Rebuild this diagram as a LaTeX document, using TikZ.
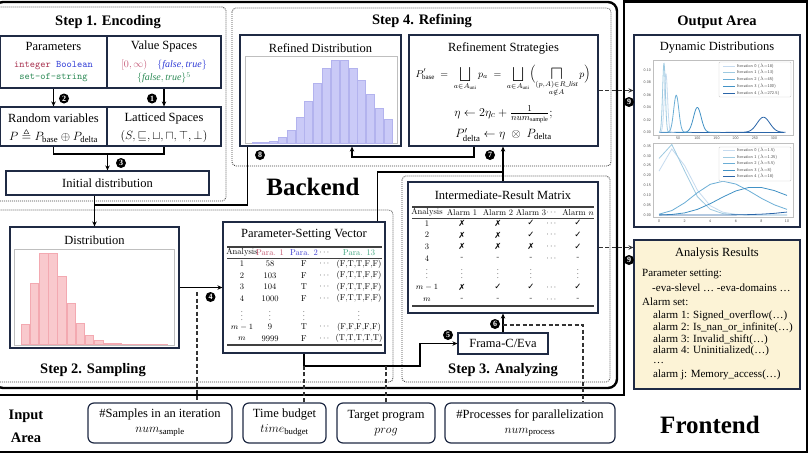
\documentclass[tikz,border=0pt]{standalone}
\usepackage{amsmath}
\usepackage{amssymb}
\usepackage{fontspec}
\usepackage{graphicx}
\usepackage{xcolor}
\usetikzlibrary{arrows.meta}
\setmainfont{Liberation Serif}
\newfontfamily\lmr{lmroman10-regular.otf}
\newfontfamily\djv{DejaVu Sans}

\definecolor{navy}{HTML}{1F2A44}
\definecolor{cream}{HTML}{FCF3D6}
\definecolor{pinkbar}{HTML}{F9C9CD}
\definecolor{pinkedge}{HTML}{F3A9B1}
\definecolor{bluebar}{HTML}{CACAF7}
\definecolor{blueedge}{HTML}{B3B3EE}
\definecolor{tred}{HTML}{A8324F}
\definecolor{tblue}{HTML}{2F3BD6}
\definecolor{tgreen}{HTML}{2E8B57}
\definecolor{vred}{HTML}{C55A78}
\definecolor{pred}{HTML}{C0506A}
\definecolor{pblue}{HTML}{3838D0}
\definecolor{pgreen}{HTML}{3AA37B}
\definecolor{blue0}{HTML}{C6DBEF}
\definecolor{blue1}{HTML}{9ECAE1}
\definecolor{blue2}{HTML}{6BAED6}
\definecolor{blue3}{HTML}{4292C6}
\definecolor{blue4}{HTML}{2A65A8}

\newcommand{\cmark}{{\djv\char"2713}}
\newcommand{\xmark}{{\djv\char"2717}}
\newcommand{\bigmeet}{\mathop{\vcenter{\hbox{\scalebox{1.9}{$\sqcap$}}}}\limits}

\begin{document}
\begin{tikzpicture}[x=1pt, y=-1pt, font=\fontsize{12.5}{14}\selectfont]
	\tikzstyle{block}=[draw=navy, line width=1.2pt, fill=white, inner sep=2pt]
	\tikzstyle{inbox}=[block, rounded corners=6pt, minimum height=40pt, align=center]
	\tikzstyle{txt}=[inner sep=0pt, align=center]
	\tikzstyle{steptitle}=[inner sep=0pt, font=\fontsize{14.5}{16}\selectfont\bfseries]
	\tikzstyle{bigtitle}=[inner sep=0pt, font=\fontsize{25}{28}\selectfont\bfseries]
	\tikzstyle{stepframe}=[draw=black!75, line width=0.9pt, dash pattern=on 0.9pt off 1.1pt, rounded corners=4pt]
	\tikzstyle{frame}=[draw=black, line width=2.4pt]
	\tikzstyle{link}=[draw=black, line width=1.1pt]
	\tikzstyle{arr}=[link, -{Stealth[length=5pt,width=4.5pt]}]
	\tikzstyle{dashlink}=[draw=black!80, line width=1.1pt, dash pattern=on 4pt off 2.5pt]
	\tikzstyle{dasharr}=[dashlink, -{Stealth[length=5pt,width=4.5pt]}]
	\tikzstyle{marker}=[circle, fill=black, text=white, inner sep=0pt, minimum size=10pt, font=\fontsize{8}{8}\selectfont\bfseries]
	\tikzstyle{cell}=[inner sep=0pt, font=\lmr\fontsize{8.5}{9}\selectfont]
	\tikzstyle{vdotcell}=[inner sep=0pt, font=\fontsize{6.5}{7}\selectfont]
	\tikzstyle{ticklab}=[inner sep=0pt, font=\sffamily\fontsize{3.8}{4}\selectfont, text=black!70]
	\tikzstyle{legendtxt}=[inner sep=0pt, anchor=west, font=\sffamily\fontsize{4.2}{5}\selectfont, text=black!70]
	\useasboundingbox (0,0) rectangle (808,455);

	% Draw the outer areas and the dotted step frames
	\draw[frame, rounded corners=9pt] (-6,2) rectangle (617,388);
	\draw[frame] (624,1.5) -- (807,1.5) -- (807,452) -- (-6,452) -- (-6,395) -- (624,395) -- cycle;
	\draw[stepframe] (-4,7) rectangle (226,201);
	\draw[stepframe] (-4,210) rectangle (393,382);
	\draw[stepframe] (402,176) rectangle (610,382);
	\draw[stepframe] (232,8) rectangle (611,166);

	\node[steptitle] (s1) at (108,22) {Step 1. Encoding};
	\node[steptitle] (s2) at (93,370) {Step 2. Sampling};
	\node[steptitle] (s3) at (503,370) {Step 3. Analyzing};
	\node[steptitle] (s4) at (422,21) {Step 4. Refining};
	\node[steptitle] (oa) at (717,22) {Output Area};
	\node[steptitle] (ia1) at (26,416) {Input};
	\node[steptitle] (ia2) at (26,438) {Area};
	\node[bigtitle] (be) at (313,187) {Backend};
	\node[bigtitle] (fe) at (710,425) {Frontend};

	% Draw the encoding step
	\node[block, minimum width=107pt, minimum height=52pt] (param) at (53.5,62) {};
	\node[block, minimum width=114pt, minimum height=52pt] (vspace) at (164,62) {};
	\node[block, minimum width=107pt, minimum height=39pt] (randvar) at (53.5,126.5) {};
	\node[block, minimum width=114pt, minimum height=39pt] (lattice) at (164,126.5) {};
	\node[block, minimum width=203pt, minimum height=24pt] (init) at (107.5,183) {Initial distribution};
	\node[txt] (paramT) at (53.5,46) {Parameters};
	\node[txt, font=\ttfamily\fontsize{10}{12}\selectfont] (paramL) at (53.5,72) {\textcolor{tred}{integer} \textcolor{tblue}{Boolean}\\\textcolor{tgreen}{set-of-string}};
	\node[txt] (vspaceT) at (164,46) {Value Spaces};
	\node[txt, font=\fontsize{10}{12}\selectfont] (vspaceL) at (164,65) {$\color{vred}[0,\infty)$\quad$\color{tblue}\{\mathit{false}, \mathit{true}\}$};
	\node[txt, font=\fontsize{10}{12}\selectfont] (vspaceL2) at (164,78) {$\color{tgreen}\{\mathit{false}, \mathit{true}\}^5$};
	\node[txt] (randvarT) at (53.5,118) {Random variables};
	\node[txt] (randvarL) at (53.5,136) {$P \triangleq P_{\mathrm{base}} \oplus P_{\mathrm{delta}}$};
	\node[txt] (latticeT) at (164,118) {Latticed Spaces};
	\node[txt] (latticeL) at (164,136) {$(S, \sqsubseteq, \sqcup, \sqcap, \top, \bot)$};

	% Draw the sampling step
	\node[block, minimum width=169pt, minimum height=121pt] (dist) at (94.5,287.5) {};
	\node[txt] (distT) at (94.5,240) {Distribution};
	\draw[black!25, line width=0.6pt] (14,249) rectangle (174,345);
	\foreach \h [count=\i] in {20.7,61,91.3,91.3,68.7,41.7,21.3,9.7,4,1.7,1,0.7,0.3,0.2,0.1,0.1}
		\filldraw[fill=pinkbar, draw=pinkedge, line width=0.4pt] ({21+(\i-1)*9.17},344.5) rectangle ++(8.4,-\h);

	\node[block, minimum width=162pt, minimum height=131pt] (psv) at (304,287.5) {};
	\node[txt] (psvT) at (304,235) {Parameter-Setting Vector};
	\draw[black!75, line width=1.2pt] (227,247) -- (382,247);
	\draw[black!75, line width=0.5pt] (227,258) -- (382,258);
	\draw[black!75, line width=1.2pt] (227,345) -- (382,345);
	\foreach \x/\t [count=\c] in {242/Analysis, 270/\textcolor{pred}{Para. 1}, 304/\textcolor{pblue}{Para. 2}, 325/$\cdots$, 359/\textcolor{pgreen}{Para. 13}}
		\node[cell] (V-0-\c) at (\x,252.5) {\t};
	\foreach \ypos/\va/\vb/\vc/\vd [count=\row] in {264/1/58/F/{(F,T,T,F,F)}, 275.5/2/103/F/{(F,T,T,F,F)}, 287/3/104/T/{(F,T,T,F,F)}, 298.5/4/1000/F/{(F,T,T,F,F)}, 327/{$m-1$}/9/T/{(F,F,F,F,F)}, 338.5/{$m$}/9999/F/{(T,T,T,T,T)}}
	{
		\node[cell] (V-\row-1) at (242,\ypos) {\va};
		\node[cell] (V-\row-2) at (270,\ypos) {\vb};
		\node[cell] (V-\row-3) at (304,\ypos) {\vc};
		\node[cell] (V-\row-4) at (325,\ypos) {$\cdots$};
		\node[cell] (V-\row-5) at (359,\ypos) {\vd};
	}
	\foreach \x [count=\c] in {242,270,304,359}
		\node[vdotcell] (V-dots-\c) at (\x,313) {$\vdots$};

	% Draw the analyzing step
	\node[block, minimum width=190pt, minimum height=131pt] (irm) at (503,247.5) {};
	\node[txt] (irmT) at (503,195) {Intermediate-Result Matrix};
	\draw[black!75, line width=1.2pt] (412,207) -- (594,207);
	\draw[black!75, line width=0.5pt] (412,218.5) -- (594,218.5);
	\draw[black!75, line width=1.2pt] (412,306) -- (594,306);
	\foreach \x/\t [count=\c] in {427/Analysis, 462/Alarm 1, 498/Alarm 2, 531/Alarm 3, 552/$\cdots$, 578/Alarm $n$}
		\node[cell] (M-0-\c) at (\x,212.7) {\t};
	\foreach \ypos/\va/\vb/\vc/\vd/\ve [count=\row] in {223.3/1/\xmark/\xmark/\cmark/\cmark, 235/2/\xmark/\xmark/\cmark/\cmark, 246.7/3/\xmark/\xmark/\xmark/\cmark, 258.3/4/-/-/-/-, 287.3/{$m-1$}/\xmark/\cmark/\cmark/\cmark, 299.3/{$m$}/-/-/-/-}
	{
		\node[cell] (M-\row-1) at (427,\ypos) {\va};
		\node[cell] (M-\row-2) at (462,\ypos) {\vb};
		\node[cell] (M-\row-3) at (498,\ypos) {\vc};
		\node[cell] (M-\row-4) at (531,\ypos) {\vd};
		\node[cell] (M-\row-5) at (552,\ypos) {$\cdots$};
		\node[cell] (M-\row-6) at (578,\ypos) {\ve};
	}
	\foreach \x [count=\c] in {427,462,498,531,578}
		\node[vdotcell] (M-dots-\c) at (\x,271) {$\vdots$};
	\node[block, minimum width=90pt, minimum height=21pt] (frama) at (503,343.5) {Frama-C/Eva};

	% Draw the refining step
	\node[block, minimum width=161pt, minimum height=111pt] (refined) at (320.5,90.5) {};
	\node[txt] (refinedT) at (320.5,48) {Refined Distribution};
	\draw[black!25, line width=0.6pt] (245,56) rectangle (397,143);
	\foreach \h [count=\i] in {0.3,0.7,1.7,5.3,12.7,25.3,42,59.7,74.3,82.7,82.7,75,62.7,48.3,34.3,23.3}
		\filldraw[fill=bluebar, draw=blueedge, line width=0.4pt] ({251.7+(\i-1)*8.83},142.7) rectangle ++(8,-\h);

	\node[block, minimum width=189pt, minimum height=111pt] (strat) at (503.5,90.5) {};
	\node[txt] (stratT) at (503.5,48) {Refinement Strategies};
	\node[txt, anchor=base, font=\fontsize{10}{12}\selectfont] (stratF1) at (503,77) {$\displaystyle P'_{\mathrm{base}} \;=\; \bigsqcup_{a\in A_{\mathrm{uni}}} p_a \;=\; \bigsqcup_{a\in A_{\mathrm{uni}}}\Bigl(\bigmeet_{\substack{(p,A)\in R\_\mathit{list}\\ a\notin A}} p\Bigr)$};
	\node[txt, anchor=base] (stratF2) at (503.5,116) {$\eta \leftarrow 2\eta_c + \frac{1}{num_{\mathrm{sample}}};$};
	\node[txt, anchor=base] (stratF3) at (503.5,137.5) {$P'_{\mathrm{delta}} \leftarrow \eta \;\otimes\; P_{\mathrm{delta}}$};

	% Draw the output area
	\node[block, minimum width=166pt, minimum height=192pt] (dyn) at (717,131) {};
	\node[txt] (dynT) at (717,48) {Dynamic Distributions};
	\draw[black!25, line width=0.5pt] (653,60) rectangle (793,135);
	\draw[black!25, line width=0.5pt] (653,143) rectangle (793,217);
	\begin{scope}[shift={(659,132.3)}, x=0.3833pt, y=623pt]
		\draw[blue4, line width=0.8pt] (0,0) -- (325,0);
		\foreach \lam/\lo/\hi/\col in {18/0/44/blue0, 13/0/35/blue1, 45/5/85/blue2, 100/40/160/blue3, 272.5/174/330/blue4}
			\draw[\col, line width=0.8pt] plot[domain=\lo:\hi, samples=70, smooth] (\x, {exp(-(\x-\lam)*(\x-\lam)/(2*\lam))/sqrt(2*pi*\lam)});
	\end{scope}
	\begin{scope}[shift={(659,215)}, x=12.8pt, y=197pt]
		\draw[blue0, line width=0.8pt] plot coordinates {(0,.223) (1,.335) (2,.251) (3,.126) (4,.047) (5,.014) (6,.0035) (7,.0008) (8,.0002) (9,0) (10,0)};
		\draw[blue1, line width=0.8pt] plot coordinates {(0,.287) (1,.358) (2,.224) (3,.093) (4,.029) (5,.007) (6,.0015) (7,.0003) (8,0) (9,0) (10,0)};
		\draw[blue2, line width=0.8pt] plot coordinates {(0,.0041) (1,.0225) (2,.0618) (3,.1133) (4,.1558) (5,.1714) (6,.1571) (7,.1234) (8,.0849) (9,.0519) (10,.0285)};
		\draw[blue3, line width=0.8pt] plot coordinates {(0,.0003) (1,.0027) (2,.0107) (3,.0286) (4,.0573) (5,.0916) (6,.1221) (7,.1396) (8,.1396) (9,.1241) (10,.0993)};
		\draw[blue4, line width=0.8pt] plot coordinates {(0,0) (5,.0002) (6,.0007) (7,.0019) (8,.0042) (9,.0083) (10,.015)};
	\end{scope}
	% Annotate the axes
	\foreach \v [count=\i] in {0,50,...,300}
		\node[ticklab] (tx1-\i) at ({659+0.3833*\v},138.5) {\v};
	\foreach \v/\t [count=\i] in {0/0.00, 0.02/0.02, 0.04/0.04, 0.06/0.06, 0.08/0.08, 0.1/0.10}
		\node[ticklab, anchor=east] (ty1-\i) at (651,{132.3-623*\v}) {\t};
	\foreach \v [count=\i] in {0,2,...,10}
		\node[ticklab] (tx2-\i) at ({659+12.8*\v},221.5) {\v};
	\foreach \v/\t [count=\i] in {0/0.00, 0.05/0.05, 0.1/0.10, 0.15/0.15, 0.2/0.20, 0.25/0.25, 0.3/0.30, 0.35/0.35}
		\node[ticklab, anchor=east] (ty2-\i) at (651,{215-197*\v}) {\t};
	% Draw the legends
	\draw[black!20, line width=0.4pt, fill=white, rounded corners=1pt] (719,62) rectangle (791,97);
	\foreach \t/\col [count=\i] in {{Iteration 0 ($\lambda$=18)}/blue0, {Iteration 1 ($\lambda$=13)}/blue1, {Iteration 2 ($\lambda$=45)}/blue2, {Iteration 3 ($\lambda$=100)}/blue3, {Iteration 4 ($\lambda$=272.5)}/blue4}
	{
		\draw[\col, line width=0.9pt] (723,{66+(\i-1)*6.75}) -- (735,{66+(\i-1)*6.75});
		\node[legendtxt] (lg1-\i) at (737,{66+(\i-1)*6.75}) {\t};
	}
	\draw[black!20, line width=0.4pt, fill=white, rounded corners=1pt] (719,147) rectangle (791,181);
	\foreach \t/\col [count=\i] in {{Iteration 0 ($\lambda$=1.5)}/blue0, {Iteration 1 ($\lambda$=1.25)}/blue1, {Iteration 2 ($\lambda$=5.5)}/blue2, {Iteration 3 ($\lambda$=8)}/blue3, {Iteration 4 ($\lambda$=18)}/blue4}
	{
		\draw[\col, line width=0.9pt] (723,{150.7+(\i-1)*6.5}) -- (735,{150.7+(\i-1)*6.5});
		\node[legendtxt] (lg2-\i) at (737,{150.7+(\i-1)*6.5}) {\t};
	}

	\node[block, fill=cream, minimum width=166pt, minimum height=149pt] (res) at (717,314.5) {};
	\node[txt] (resT) at (717,254) {Analysis Results};
	\foreach \x/\y/\t [count=\i] in {642/274/{Parameter setting:}, 652/288/{-eva-slevel … -eva-domains …}, 642/302/{Alarm set:}, 653/316/{alarm 1: Signed\_overflow(…)}, 653/328/{alarm 2: Is\_nan\_or\_infinite(…)}, 653/339.5/{alarm 3: Invalid\_shift(…)}, 653/351/{alarm 4: Uninitialized(…)}, 653/363/{…}, 653/374.5/{alarm j: Memory\_access(…)}}
		\node[txt, anchor=west, font=\fontsize{11}{13}\selectfont] (res-\i) at (\x,\y) {\t};

	% Draw the input area
	\node[inbox, minimum width=144pt] (samples) at (160,423) {\#Samples in an iteration\\[1pt]$num_{\mathrm{sample}}$};
	\node[inbox, minimum width=83pt] (budget) at (284.5,423) {Time budget\\[1pt]$time_{\mathrm{budget}}$};
	\node[inbox, minimum width=98pt] (prog) at (386,423) {Target program\\[1pt]$prog$};
	\node[inbox, minimum width=170pt] (procs) at (530,423) {\#Processes for parallelization\\[1pt]$num_{\mathrm{process}}$};

	% Connect the blocks
	\draw[arr] (param.south) -- (randvar.north);
	\draw[arr] (vspace.south) -- (lattice.north);
	\coordinate (j3) at (107.5,154);
	\draw[link] (randvar.south) |- (j3) -| (lattice.south);
	\draw[arr] (j3) -- (init.north);
	\draw[arr] (init.south -| dist.north) -- (dist.north);
	\coordinate (j8) at (94.5,205);
	\draw[link] ([xshift=8pt]refined.south west) |- (j8);
	\draw[arr] (dist.east) -- (psv.west);
	\coordinate (j5) at (420,366);
	\draw[arr] (psv.south) |- (j5) |- (frama.west);
	\draw[arr] (frama.north) -- (irm.south);
	\coordinate (j7) at (503,172);
	\draw[link] ([xshift=-8pt]psv.north east) |- (j7);
	\draw[arr] (irm.north) -- (irm.north |- strat.south);
	\coordinate (r1) at (474,157);
	\coordinate (r2) at (352,157);
	\draw[arr] (strat.south -| r1) -- (r1) -- (r2) -- (r2 |- refined.south);
	\draw[dasharr] (strat.east) -- (dyn.west |- strat.east);
	\draw[dasharr] (irm.east) -- (res.west |- irm.east);
	% Dashed inputs
	\coordinate (d4) at (197,292);
	\draw[dashlink] (d4) -- (d4 |- samples.north);
	\draw[dashlink] (budget.north -| psv.south) -- (psv.south |- j5);
	\draw[dashlink] (prog.north) -- (prog.north |- j5);
	\coordinate (d6) at (583,325);
	\draw[dashlink] (frama.north |- d6) -- (d6) -- (d6 |- procs.north);

	% Number the steps
	\node[marker] (m1) at (152,98.5) {1};
	\node[marker] (m2) at (64,98.5) {2};
	\node[marker] (m3) at (121,163) {3};
	\node[marker] (m4) at (210.5,297) {4};
	\node[marker] (m5) at (448,335) {5};
	\node[marker] (m6) at (495,324) {6};
	\node[marker] (m7) at (490,155) {7};
	\node[marker] (m8) at (260,155) {8};
	\node[marker] (m9a) at (629,102) {9};
	\node[marker] (m9b) at (629,260) {9};
\end{tikzpicture}
\end{document}
